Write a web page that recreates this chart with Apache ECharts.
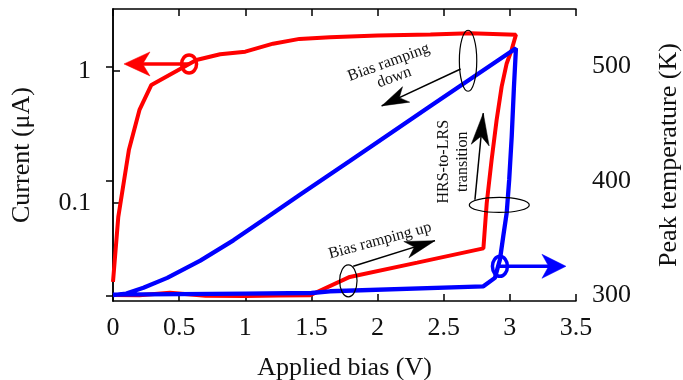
<!DOCTYPE html>
<html>
<head>
<meta charset="utf-8">
<script src="https://cdn.jsdelivr.net/npm/echarts@6/dist/echarts.min.js"></script>
<style>
html,body{margin:0;padding:0;background:#fff;}
#chart{width:683px;height:380px;}
</style>
</head>
<body>
<div id="chart"></div>
<script>
// ---- data ----
// Current (µA), red: ramp up then ramp down
const currentBias = [0, 0.2, 0.43, 0.7, 1.0, 1.25, 1.49, 1.79, 2.3, 2.80, 2.825, 2.862, 2.90, 2.938, 2.976, 3.013, 3.046,
                     2.70, 2.4, 2.0, 1.64, 1.41, 1.21, 1.0, 0.81, 0.63, 0.29, 0.2, 0.12, 0.1, 0.04, 0.0];
const currentValues = [0.0200, 0.0199, 0.0208, 0.0197, 0.0196, 0.0198, 0.0199, 0.0274, 0.0352, 0.0451, 0.099, 0.211, 0.425, 0.76, 1.14, 1.44, 1.88,
                       1.93, 1.89, 1.86, 1.80, 1.75, 1.61, 1.40, 1.34, 1.21, 0.783, 0.506, 0.251, 0.1875, 0.0783, 0.0251];
// Peak temperature (K), blue: ramp up then ramp down
const tempBias = [0, 0.5, 1.0, 1.5, 1.64, 2.80, 2.887, 2.925, 2.950, 2.976, 2.995, 3.014, 3.031, 3.046,
                  2.4, 1.94, 1.79, 1.41, 1.16, 0.91, 0.66, 0.41, 0.23, 0.10, 0];
const tempValues = [300.5, 301, 301.5, 302, 303.5, 307.8, 315.2, 331.1, 351.4, 371.8, 400.9, 438.6, 482.2, 515.7,
                    465.3, 429.1, 417.3, 387.6, 367.7, 348, 330.3, 315.2, 306.5, 301.5, 300.2];
// tick labels
const currentTicks = [0.1, 1];
const tempTicks = [300, 400, 500];
// axis titles
const xTitle = 'Applied bias (V)';
const yLeftTitle = 'Current (\u03BCA)';
const yRightTitle = 'Peak temperature (K)';
// annotation texts
const textDown = 'Bias ramping\ndown';
const textUp = 'Bias ramping up';
const textTransition = 'HRS-to-LRS\ntransition';

const FONT = '"Liberation Serif", "Times New Roman", serif';
const chart = echarts.init(document.getElementById('chart'), null, {renderer: 'canvas'});

const axisLine = {show: true, lineStyle: {color: '#000', width: 1.5}};
const axisTick = {show: true, inside: true, length: 7, lineStyle: {color: '#000', width: 1.5}};

chart.setOption({
  animation: false,
  backgroundColor: '#fff',
  grid: {left: 113, right: 107, top: 9, bottom: 79, containLabel: false, outerBoundsMode: 'none'},
  xAxis: [{
    type: 'value', min: 0, max: 3.5, interval: 0.5, position: 'bottom',
    axisLine, axisTick, splitLine: {show: false},
    axisLabel: {fontFamily: FONT, fontSize: 26, color: '#111', margin: 14},
    name: xTitle, nameLocation: 'middle', nameGap: 54,
    nameTextStyle: {fontFamily: FONT, fontSize: 26, color: '#111'}
  }, {
    type: 'value', min: 0, max: 3.5, interval: 0.5, position: 'top',
    axisLine, axisTick, splitLine: {show: false}, axisLabel: {show: false}
  }],
  yAxis: [{
    type: 'log', logBase: 10, min: 0.018, max: 2.95, position: 'left',
    axisLine, splitLine: {show: false}, minorTick: {show: false},
    axisTick: Object.assign({customValues: currentTicks}, axisTick),
    axisLabel: {customValues: currentTicks, fontFamily: FONT, fontSize: 26, color: '#111', margin: 22,
      formatter: v => String(+(+v).toPrecision(3))},
    name: yLeftTitle, nameLocation: 'middle', nameGap: 78,
    nameTextStyle: {fontFamily: FONT, fontSize: 26, color: '#111'}
  }, {
    type: 'value', min: 295, max: 550, position: 'right',
    axisLine, splitLine: {show: false},
    axisTick: Object.assign({customValues: tempTicks}, axisTick),
    axisLabel: {customValues: tempTicks, fontFamily: FONT, fontSize: 26, color: '#111', margin: 16},
    name: yRightTitle, nameLocation: 'middle', nameGap: 80,
    nameTextStyle: {fontFamily: FONT, fontSize: 26, color: '#111'}
  }],
  series: [{
    type: 'line', xAxisIndex: 0, yAxisIndex: 0, showSymbol: false, symbol: 'none',
    data: currentBias.map((v, i) => [v, currentValues[i]]),
    lineStyle: {color: '#ff0000', width: 4}, z: 2
  }, {
    type: 'line', xAxisIndex: 0, yAxisIndex: 1, showSymbol: false, symbol: 'none',
    data: tempBias.map((v, i) => [v, tempValues[i]]),
    lineStyle: {color: '#0000ff', width: 4.3}, z: 3
  }]
});

// ---- annotations, anchored in data coordinates ----
const pI = (v, I) => chart.convertToPixel({xAxisIndex: 0, yAxisIndex: 0}, [v, I]);
const pT = (v, T) => chart.convertToPixel({xAxisIndex: 0, yAxisIndex: 1}, [v, T]);

function arrowHead(tip, tail, L, W, color) {
  const dx = tail[0] - tip[0], dy = tail[1] - tip[1];
  const d = Math.hypot(dx, dy), ux = dx / d, uy = dy / d, nx = -uy, ny = ux;
  return {
    type: 'polygon', z: 20,
    shape: {points: [
      tip,
      [tip[0] + L * ux + W * nx, tip[1] + L * uy + W * ny],
      [tip[0] + 0.72 * L * ux, tip[1] + 0.72 * L * uy],
      [tip[0] + L * ux - W * nx, tip[1] + L * uy - W * ny]
    ]},
    style: {fill: color, stroke: color, lineWidth: 0.5}
  };
}
function seg(a, b, color, w) {
  return {type: 'line', z: 19, shape: {x1: a[0], y1: a[1], x2: b[0], y2: b[1]},
    style: {stroke: color, lineWidth: w}};
}
function ell(c, rx, ry, color, w) {
  return {type: 'ellipse', z: 21, shape: {cx: c[0], cy: c[1], rx, ry},
    style: {fill: null, stroke: color, lineWidth: w}};
}
function label(c, text, rotDeg, lh) {
  return {type: 'text', z: 22, x: c[0], y: c[1], rotation: rotDeg * Math.PI / 180,
    style: {text, fontFamily: FONT, fontSize: 16, fill: '#111', align: 'center',
      verticalAlign: 'middle', lineHeight: lh}};
}

const g = [];
// red marker: circle on current curve, arrow to the left axis
const rc = pI(0.575, 1.13), rt = pI(0.083, 1.13);
g.push(seg(rc, [rt[0] + 15, rt[1]], '#ff0000', 3.5));
g.push(arrowHead(rt, rc, 26, 12, '#ff0000'));
g.push(ell(rc, 7.5, 9, '#ff0000', 3.5));
// blue marker: circle on temperature curve, arrow to the right axis
const bc = pT(2.925, 325.3), bt = pT(3.424, 325.3);
g.push(seg(bc, [bt[0] - 15, bt[1]], '#0000ff', 3.5));
g.push(arrowHead(bt, bc, 24, 12, '#0000ff'));
g.push(ell(bc, 7.5, 10, '#0000ff', 3.5));
// ramping down
const dS = pT(2.628, 497.6), dT = pT(2.031, 465.4);
g.push(ell(pT(2.684, 504.8), 8.7, 30.5, '#000', 1.2));
g.push(seg(dS, dT, '#000', 1.5));
g.push(arrowHead(dT, dS, 27, 8.5, '#000'));
g.push(label(pT(2.105, 496.8), textDown, 20, 16));
// transition
const tS = pT(2.736, 383.4), tT = pT(2.799, 459);
g.push(ell(pT(2.920, 378.9), 30, 7.5, '#000', 1.2));
g.push(seg(tS, tT, '#000', 1.5));
g.push(arrowHead(tT, tS, 32, 9, '#000'));
g.push(label(pT(2.570, 416.6), textTransition, 90, 19));
// ramping up
const uS = pT(1.816, 325.3), uT = pT(2.434, 347.7);
g.push(ell(pT(1.779, 312.6), 8.7, 16, '#000', 1.2));
g.push(seg(uS, uT, '#000', 1.5));
g.push(arrowHead(uT, uS, 30, 8.5, '#000'));
g.push(label(pT(2.018, 347.7), textUp, 15, 16));

chart.setOption({graphic: {elements: g}});
</script>
</body>
</html>
